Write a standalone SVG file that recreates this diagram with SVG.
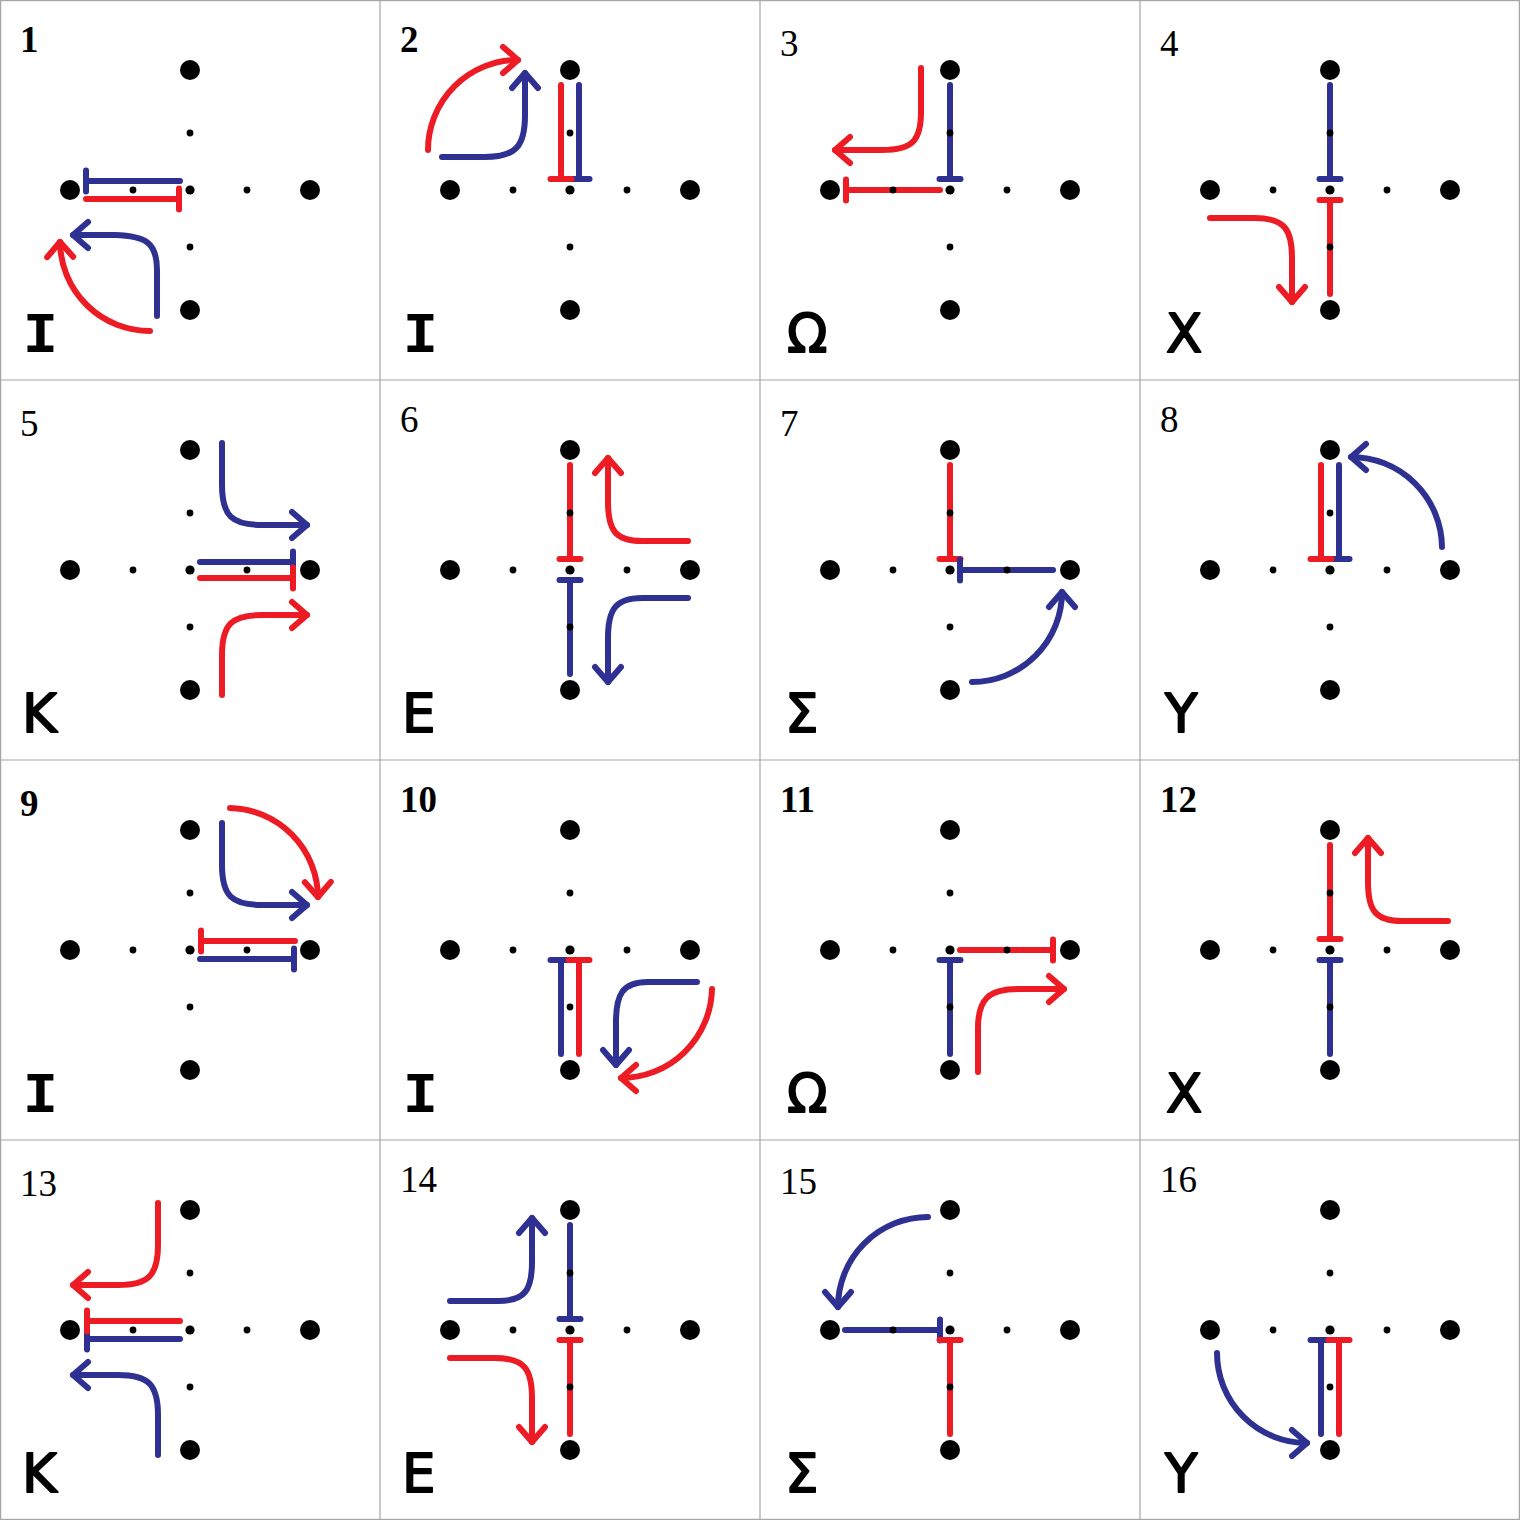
<svg xmlns="http://www.w3.org/2000/svg" xmlns:xlink="http://www.w3.org/1999/xlink" width="1520" height="1520" viewBox="0 0 1520 1520">
<style>
.r{fill:none;stroke:#ED1C24;stroke-width:6;stroke-linecap:round;stroke-linejoin:round}
.b{fill:none;stroke:#2E3192;stroke-width:6;stroke-linecap:round;stroke-linejoin:round}
.rt{marker-end:url(#barR)}
.bt{marker-end:url(#barB)}
.ra{marker-end:url(#arrR)}
.ba{marker-end:url(#arrB)}
.grid{fill:none;stroke:#a6a6a6;stroke-width:1.2}
.num{font-family:"Liberation Serif",serif;font-size:37px;fill:#000}
.nb{font-weight:bold}
.let{font-family:"DejaVu Sans",sans-serif;font-size:53px;fill:#000;stroke:#000;stroke-width:1.8;stroke-linejoin:round}
.leti{font-family:"Liberation Mono",monospace;font-weight:bold;font-size:58px;fill:#000}
</style>
<defs>
<marker id="barR" markerUnits="userSpaceOnUse" orient="auto" viewBox="-20 -20 40 40" markerWidth="40" markerHeight="40" refX="0" refY="0"><path d="M0,-10.5 L0,10.5" fill="none" stroke="#ED1C24" stroke-width="6" stroke-linecap="round"/></marker>
<marker id="barB" markerUnits="userSpaceOnUse" orient="auto" viewBox="-20 -20 40 40" markerWidth="40" markerHeight="40" refX="0" refY="0"><path d="M0,-10.5 L0,10.5" fill="none" stroke="#2E3192" stroke-width="6" stroke-linecap="round"/></marker>
<marker id="arrR" markerUnits="userSpaceOnUse" orient="auto" viewBox="-20 -20 40 40" markerWidth="40" markerHeight="40" refX="0" refY="0"><path d="M-15,-13 L0,0 L-15,13" fill="none" stroke="#ED1C24" stroke-width="6" stroke-linecap="round" stroke-linejoin="round"/></marker>
<marker id="arrB" markerUnits="userSpaceOnUse" orient="auto" viewBox="-20 -20 40 40" markerWidth="40" markerHeight="40" refX="0" refY="0"><path d="M-15,-13 L0,0 L-15,13" fill="none" stroke="#2E3192" stroke-width="6" stroke-linecap="round" stroke-linejoin="round"/></marker>
<g id="dots">
<circle cx="70" cy="190" r="10"/><circle cx="310" cy="190" r="10"/><circle cx="190" cy="70" r="10"/><circle cx="190" cy="310" r="10"/>
<circle cx="133" cy="190" r="3.4"/><circle cx="247" cy="190" r="3.4"/><circle cx="190" cy="133" r="3.4"/><circle cx="190" cy="247" r="3.4"/>
<circle cx="190" cy="190" r="4.6"/>
</g>
</defs>
<rect width="1520" height="1520" fill="#fff"/>
<g id="grid">
<rect class="grid" x="0.6" y="0.6" width="1518.8" height="1518.8"/>
<path class="grid" d="M380,0 V1520 M760,0 V1520 M1140,0 V1520 M0,380 H1520 M0,760 H1520 M0,1140 H1520"/>
</g>
<g id="connectors">
<g transform="translate(0,0)">
<path class="b bt" d="M180,181 H86"/>
<path class="r rt" d="M86,199 H179"/>
<path class="b ba" d="M157,316 V270 C157,242 145,236 115,235 H73"/>
<path class="r ra" d="M150,331 A90,90 0 0 1 60,242"/>
</g>
<g transform="translate(380,0)">
<path class="b bt" d="M199,85 V179"/>
<path class="r rt" d="M181,85 V179"/>
<path class="b ba" d="M62,157 H105 C137,157 145,145 145,115 V73"/>
<path class="r ra" d="M48,150 A90,90 0 0 1 138,60"/>
</g>
<g transform="translate(760,0)">
<path class="b bt" d="M190,85 V179"/>
<path class="r rt" d="M180,190 H86"/>
<path class="r ra" d="M161,68 V112 C161,141 152,150 122,150 H75"/>
</g>
<g transform="translate(1140,0)">
<path class="b bt" d="M190,85 V179"/>
<path class="r rt" d="M190,294 V200"/>
<path class="r ra" d="M70,218 H115 C145,218 152,230 152,258 V302"/>
</g>
<g transform="translate(0,380)">
<path class="b bt" d="M200,182 H293"/>
<path class="r rt" d="M200,198 H293"/>
<path class="b ba" d="M222,63 V105 C222,136 232,145 262,145 H307"/>
<path class="r ra" d="M222,315 V275 C222,244 232,235 262,235 H307"/>
</g>
<g transform="translate(380,380)">
<path class="r rt" d="M190,85 V179"/>
<path class="b bt" d="M190,294 V200"/>
<path class="r ra" d="M308,161 H262 C235,161 228,150 228,122 V78"/>
<path class="b ba" d="M308,218 H262 C235,218 228,230 228,258 V302"/>
</g>
<g transform="translate(760,380)">
<path class="r rt" d="M190,85 V179"/>
<path class="b bt" d="M293,190 H200"/>
<path class="b ba" d="M212,302 A90,90 0 0 0 302,212"/>
</g>
<g transform="translate(1140,380)">
<path class="b bt" d="M199,85 V179"/>
<path class="r rt" d="M181,85 V179"/>
<path class="b ba" d="M302,167 A91,91 0 0 0 211,77"/>
</g>
<g transform="translate(0,760)">
<path class="b bt" d="M200,199 H294"/>
<path class="r rt" d="M295,181 H201"/>
<path class="b ba" d="M222,63 V105 C222,136 232,145 262,145 H307"/>
<path class="r ra" d="M230,48 A90,90 0 0 1 318,137"/>
</g>
<g transform="translate(380,760)">
<path class="b bt" d="M181,294 V200"/>
<path class="r rt" d="M199,294 V200"/>
<path class="b ba" d="M317,222 H268 C242,222 236,235 236,262 V305"/>
<path class="r ra" d="M332,229 A91,91 0 0 1 241,318"/>
</g>
<g transform="translate(760,760)">
<path class="b bt" d="M190,294 V200"/>
<path class="r rt" d="M200,190 H293"/>
<path class="r ra" d="M218,312 V268 C218,240 228,229 258,229 H304"/>
</g>
<g transform="translate(1140,760)">
<path class="b bt" d="M190,294 V200"/>
<path class="r rt" d="M190,85 V179"/>
<path class="r ra" d="M308,161 H262 C235,161 228,150 228,122 V78"/>
</g>
<g transform="translate(0,1140)">
<path class="b bt" d="M180,199 H87"/>
<path class="r rt" d="M180,181 H87"/>
<path class="r ra" d="M158,63 V105 C158,136 148,145 118,145 H73"/>
<path class="b ba" d="M158,315 V275 C158,244 148,235 118,235 H73"/>
</g>
<g transform="translate(380,1140)">
<path class="b bt" d="M190,85 V179"/>
<path class="r rt" d="M190,294 V200"/>
<path class="b ba" d="M70,161 H118 C145,161 152,150 152,122 V78"/>
<path class="r ra" d="M70,218 H115 C145,218 152,230 152,258 V302"/>
</g>
<g transform="translate(760,1140)">
<path class="b bt" d="M85,190 H180"/>
<path class="r rt" d="M190,294 V200"/>
<path class="b ba" d="M168,77 A90,90 0 0 0 78,167"/>
</g>
<g transform="translate(1140,1140)">
<path class="b bt" d="M181,294 V200"/>
<path class="r rt" d="M199,294 V200"/>
<path class="b ba" d="M77,213 A90,90 0 0 0 167,303"/>
</g>
</g>
<g id="cell-1" transform="translate(0,0)"><use xlink:href="#dots"/><text class="num nb" x="20" y="52">1</text><text class="leti" x="23" y="352">I</text></g>
<g id="cell-2" transform="translate(380,0)"><use xlink:href="#dots"/><text class="num nb" x="20" y="52">2</text><text class="leti" x="23" y="352">I</text></g>
<g id="cell-3" transform="translate(760,0)"><use xlink:href="#dots"/><text class="num" x="20" y="56">3</text><text class="let" x="27" y="352">Ω</text></g>
<g id="cell-4" transform="translate(1140,0)"><use xlink:href="#dots"/><text class="num" x="20" y="56">4</text><text class="let" x="26" y="352">X</text></g>
<g id="cell-5" transform="translate(0,380)"><use xlink:href="#dots"/><text class="num" x="20" y="56">5</text><text class="let" x="22" y="352">K</text></g>
<g id="cell-6" transform="translate(380,380)"><use xlink:href="#dots"/><text class="num" x="20" y="52">6</text><text class="let" x="22" y="352">E</text></g>
<g id="cell-7" transform="translate(760,380)"><use xlink:href="#dots"/><text class="num" x="20" y="56">7</text><text class="let" x="25" y="352">Σ</text></g>
<g id="cell-8" transform="translate(1140,380)"><use xlink:href="#dots"/><text class="num" x="20" y="52">8</text><text class="let" x="25" y="352">Y</text></g>
<g id="cell-9" transform="translate(0,760)"><use xlink:href="#dots"/><text class="num nb" x="20" y="56">9</text><text class="leti" x="23" y="352">I</text></g>
<g id="cell-10" transform="translate(380,760)"><use xlink:href="#dots"/><text class="num nb" x="20" y="52">10</text><text class="leti" x="23" y="352">I</text></g>
<g id="cell-11" transform="translate(760,760)"><use xlink:href="#dots"/><text class="num nb" x="20" y="52">11</text><text class="let" x="27" y="352">Ω</text></g>
<g id="cell-12" transform="translate(1140,760)"><use xlink:href="#dots"/><text class="num nb" x="20" y="52">12</text><text class="let" x="26" y="352">X</text></g>
<g id="cell-13" transform="translate(0,1140)"><use xlink:href="#dots"/><text class="num" x="20" y="56">13</text><text class="let" x="22" y="352">K</text></g>
<g id="cell-14" transform="translate(380,1140)"><use xlink:href="#dots"/><text class="num" x="20" y="52">14</text><text class="let" x="22" y="352">E</text></g>
<g id="cell-15" transform="translate(760,1140)"><use xlink:href="#dots"/><text class="num" x="20" y="54">15</text><text class="let" x="25" y="352">Σ</text></g>
<g id="cell-16" transform="translate(1140,1140)"><use xlink:href="#dots"/><text class="num" x="20" y="52">16</text><text class="let" x="25" y="352">Y</text></g>
</svg>
